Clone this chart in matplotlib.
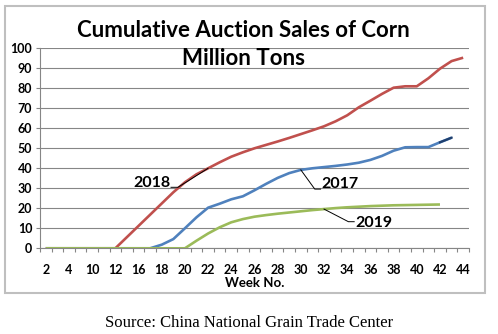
import numpy as np
import matplotlib.pyplot as plt
from matplotlib.patches import Rectangle

# ── Data ──────────────────────────────────────────────────────────────────────
weeks = ['2', '3', '4', '7', '10', '11', '12', '14', '16', '17', '18', '19',
         '20', '21', '22', '23', '24', '25', '26', '27', '28', '29', '30', '31',
         '32', '33', '34', '35', '36', '37', '38', '39', '40', '41', '42', '43', '44']
nan = np.nan
sales_2017 = [0, 0, 0, 0, 0, 0, 0, 0, 0, 0, 1.8, 4.6, 10.0, 15.5, 20.3, 22.3,
              24.5, 26.0, 29.0, 32.2, 35.2, 37.6, 39.2, 40.0, 40.6, 41.2, 41.9,
              42.8, 44.2, 46.2, 48.8, 50.5, 50.6, 50.6, 53.0, 55.3, nan]
sales_2018 = [0, 0, 0, 0, 0, 0, 0, 5.6, 11.2, 16.8, 22.4, 28.0, 33.0, 37.0,
              40.0, 43.0, 45.8, 48.0, 50.0, 51.7, 53.4, 55.2, 57.1, 59.0, 61.0,
              63.5, 66.5, 70.5, 73.8, 77.2, 80.3, 81.0, 81.0, 85.0, 89.8, 93.6, 95.3]
sales_2019 = [0, 0, 0, 0, 0, 0, 0, 0, 0, 0, 0, 0, 0, 3.8, 7.4, 10.5, 13.0,
              14.6, 15.8, 16.6, 17.3, 17.9, 18.5, 19.1, 19.6, 20.1, 20.5, 20.8,
              21.1, 21.3, 21.5, 21.6, 21.7, 21.8, 21.9, nan, nan]

c2017, c2018, c2019 = '#4F81BD', '#C0504D', '#9BBB59'
grid_c = '#868686'
lab_font = dict(family='Lato', weight='bold')

x = np.arange(len(weeks))
y17, y18, y19 = map(np.array, (sales_2017, sales_2018, sales_2019))

fig = plt.figure(figsize=(4.98, 3.34), dpi=100)
ax = fig.add_axes([0.0803, 0.2566, 0.8614, 0.5988])

ax.plot(x, y17, color=c2017, lw=1.9, solid_capstyle='butt')
ax.plot(x[34:36], y17[34:36], color='#1F3F6E', lw=1.6)
ax.plot(x, y18, color=c2018, lw=1.9, solid_capstyle='butt')
ax.plot(x, y19, color=c2019, lw=1.9, solid_capstyle='butt')

# ── Axes styling ──────────────────────────────────────────────────────────────
ax.set_xlim(-0.5, len(weeks) - 0.5)
ax.set_ylim(0, 100)
ax.set_yticks(range(0, 101, 10))
ax.grid(axis='y', color=grid_c, lw=0.8)
ax.set_axisbelow(True)
for s in ('top', 'right'):
    ax.spines[s].set_visible(False)
for s in ('left', 'bottom'):
    ax.spines[s].set_color(grid_c)
    ax.spines[s].set_linewidth(0.8)

ax.set_xticks(np.arange(-0.5, len(weeks)), [''] * (len(weeks) + 1))
ax.set_xticks(x[::2], weeks[::2], minor=True)
ax.tick_params(axis='x', which='major', length=3, width=0.8, color=grid_c)
ax.tick_params(axis='x', which='minor', length=0, pad=11.5)
ax.tick_params(axis='y', length=3, width=0.8, color=grid_c, pad=2.5)
for t in ax.get_xticklabels(minor=True) + ax.get_yticklabels():
    t.set_fontfamily('Lato'); t.set_fontweight('bold'); t.set_fontsize(9)

# ── Series labels with leader lines ───────────────────────────────────────────
ax.text(10.75, 30.6, '2018', ha='right', va='baseline', fontsize=11.5, **lab_font)
ax.plot([14, 11.4, 10.8], [y18[14], 30.5, 30.5], color='black', lw=0.7)
ax.text(23.78, 30.0, '2017', ha='left', va='baseline', fontsize=11.5, **lab_font)
ax.plot([22, 23.2, 23.7], [y17[22], 29.6, 29.6], color='black', lw=0.7)
ax.text(26.66, 10.8, '2019', ha='left', va='baseline', fontsize=11.5, **lab_font)
ax.plot([24, 26.1, 26.6], [y19[24], 13.3, 13.3], color='black', lw=0.7)

# ── Titles and frame ──────────────────────────────────────────────────────────
fig.text(243 / 498, 1 - 36.7 / 334, 'Cumulative Auction Sales of Corn',
         ha='center', va='baseline', fontsize=16, **lab_font)
fig.text(243 / 498, 1 - 65 / 334, 'Million Tons',
         ha='center', va='baseline', fontsize=16, **lab_font)
fig.text(255 / 498, 1 - 287 / 334, 'Week No.', ha='center', va='baseline',
         fontsize=9.5, **lab_font)
fig.patches.append(Rectangle((5 / 498, 1 - 293 / 334), 480 / 498, 287 / 334,
                             transform=fig.transFigure, fill=False,
                             edgecolor='#BFBFBF', lw=1.5))
fig.text(249.5 / 498, 1 - 327 / 334, 'Source: China National Grain Trade Center',
         ha='center', va='baseline', fontsize=12, family='Liberation Serif')

fig.savefig('out.png', dpi=100)
